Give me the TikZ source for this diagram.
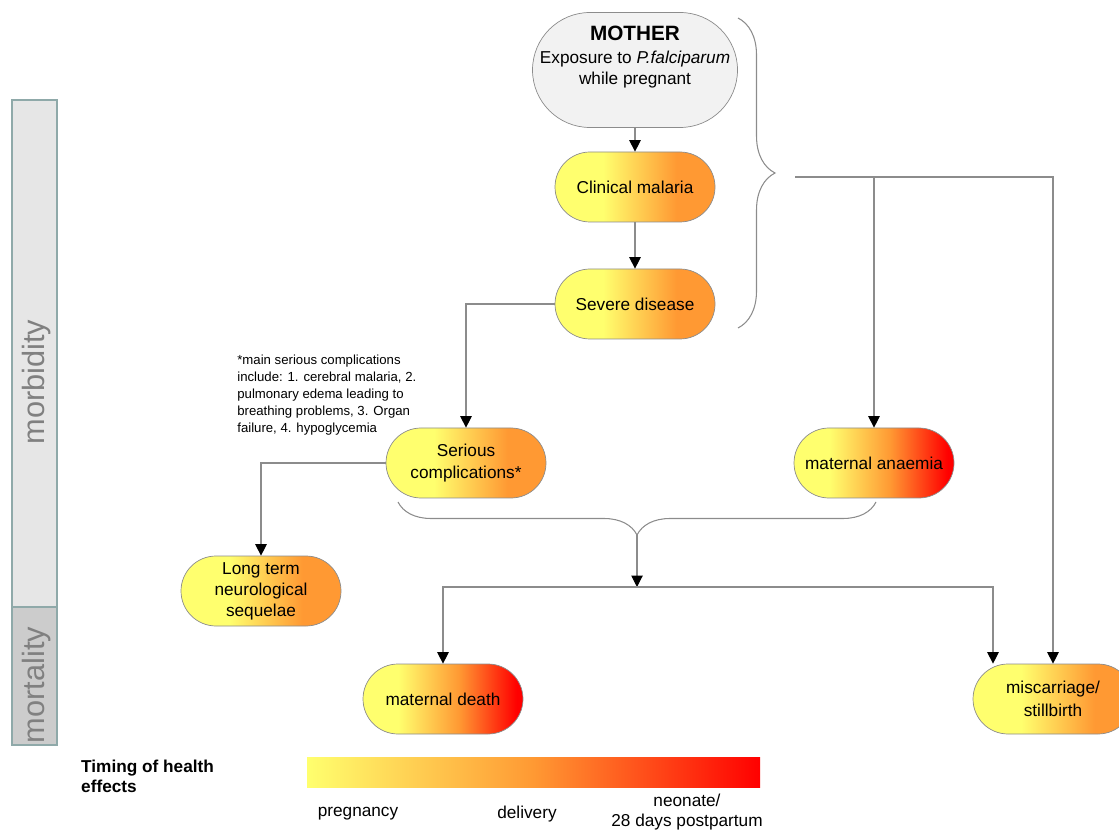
\documentclass[tikz,border=0pt]{standalone}
\usepackage{fontspec}
\setmainfont{Liberation Sans}
\usetikzlibrary{arrows.meta,decorations.pathreplacing}

\definecolor{paleyellow}{HTML}{FFFF6E}
\definecolor{midorange}{HTML}{FF9933}
\definecolor{deepred}{HTML}{FF0000}
\definecolor{linegray}{HTML}{8C8C8C}
\definecolor{mothergray}{HTML}{F2F2F2}
\definecolor{bargray}{HTML}{E6E6E6}
\definecolor{bardark}{HTML}{CCCCCC}
\definecolor{barframe}{HTML}{8FA9A9}
\definecolor{labelgray}{HTML}{808080}

% shadings: pregnancy -> delivery (-> neonate)
\pgfdeclarehorizontalshading{yelor}{100bp}{color(0bp)=(paleyellow); color(40bp)=(paleyellow); color(63bp)=(midorange); color(100bp)=(midorange)}
\pgfdeclarehorizontalshading{yelred}{100bp}{color(0bp)=(paleyellow); color(36bp)=(paleyellow); color(55bp)=(midorange); color(73bp)=(deepred); color(100bp)=(deepred)}
\pgfdeclarehorizontalshading{timing}{100bp}{color(0bp)=(paleyellow); color(25bp)=(paleyellow); color(50bp)=(midorange); color(75bp)=(deepred); color(100bp)=(deepred)}

\begin{document}
\begin{tikzpicture}[
			effect/.style={rectangle, rounded corners=0.7cm, draw=linegray, line width=0.4pt, minimum width=3.2cm, minimum height=1.4cm, inner sep=2pt, align=center, shade, shading=yelor, font=\fontsize{9.8}{13}\selectfont},
			fatal/.style={effect, shading=yelred},
			source/.style={rectangle, rounded corners=1.15cm, draw=linegray, line width=0.4pt, fill=mothergray, minimum width=4.1cm, minimum height=2.3cm},
			conn/.style={draw=linegray, line width=0.6pt, -{Triangle[width=6.5pt,length=6.5pt,color=black]}},
			curly/.style={draw=linegray, line width=0.6pt, decorate, decoration={brace, amplitude=0.74cm}},
			bar/.style={rectangle, draw=barframe, line width=1.6pt, minimum width=0.9cm},
			barlabel/.style={rotate=90, text=labelgray, font=\fontsize{17.5}{20}\selectfont},
			legtext/.style={font=\fontsize{9.8}{11}\selectfont}
			]
			\useasboundingbox (0,0) rectangle (22.38,-16.64);
			
			% Side bars
			\node[bar, fill=bargray, minimum height=10.14cm] (morbar) at (0.69,-7.07) {};
			\node[bar, fill=bardark, minimum height=2.76cm] (mortbar) at (0.69,-13.52) {};
			\node[barlabel] (morblabel) at (0.74,-7.64) {morbidity};
			\node[barlabel] (mortlabel) at (0.74,-13.70) {mortality};
			
			% Health effects
			\node[source] (mother) at (12.70,-1.40) {};
			\node[align=center, font=\fontsize{9.8}{11.8}\selectfont] (mothertext) at (12.70,-1.14) {{\fontsize{11.8}{14}\selectfont\bfseries MOTHER}\\[1.5pt]Exposure to \textit{P.falciparum}\\while pregnant};
			\node[effect] (clinical) at (12.70,-3.74) {Clinical malaria};
			\node[effect] (severe) at (12.70,-6.08) {Severe disease};
			\node[effect] (serious) at (9.32,-9.26) {Serious\\complications*};
			\node[fatal] (anaemia) at (17.48,-9.26) {maternal anaemia};
			\node[effect, font=\fontsize{9.8}{12}\selectfont] (longterm) at (5.22,-11.82) {Long term\\neurological\\sequelae};
			\node[fatal] (death) at (8.86,-13.98) {maternal death};
			\node[effect] (miscarriage) at (21.06,-13.98) {miscarriage/\\stillbirth};
			
			% Footnote
			\node[anchor=north west, align=left, inner sep=0pt, font=\fontsize{7.5}{9.6}\selectfont] (note) at (4.74,-7.10) {*main serious complications\\include: 1. cerebral malaria, 2.\\pulmonary edema leading to\\breathing problems, 3. Organ\\failure, 4. hypoglycemia};
			
			% Braces
			\coordinate (rbtop) at (14.76,-0.36);
			\coordinate (rbbot) at (14.76,-6.56);
			\coordinate (rbtip) at (15.90,-3.54);
			\draw[curly] (rbtop) -- (rbbot);
			\coordinate (lbstart) at (17.52,-10.04);
			\coordinate (lbend) at (7.96,-10.04);
			\coordinate (lbtip) at (12.74,-10.70);
			\coordinate (junction) at (12.74,-11.74);
			\draw[curly, decoration={amplitude=0.66cm}] (lbstart) -- (lbend);
			
			% Connectors
			\draw[conn] (mother) -- (clinical);
			\draw[conn] (clinical) -- (severe);
			\draw[conn] (severe.west) -| (serious.north);
			\draw[conn] (serious.west) -| (longterm.north);
			\draw[conn] (rbtip) -| (miscarriage.north);
			\draw[conn] (anaemia.north |- rbtip) -- (anaemia.north);
			\draw[conn] (lbtip) -- (junction);
			\draw[conn] (junction) -| (death.north);
			\draw[conn] (junction) -| ([xshift=-1.2cm]miscarriage.north);
			
			% Legend
			\node[anchor=west, align=left, font=\fontsize{9.8}{11.3}\selectfont\bfseries] (timing) at (1.50,-15.52) {Timing of health\\effects};
			\node[rectangle, shade, shading=timing, minimum width=9.06cm, minimum height=0.6cm, inner sep=0pt] (legbar) at (10.67,-15.44) {};
			\node[legtext] (preg) at (7.16,-16.28) {pregnancy};
			\node[legtext] (deliv) at (10.54,-16.28) {delivery};
			\node[legtext, align=center, inner sep=0pt] (neo) at (13.74,-16.24) {neonate/\\28 days postpartum};
			
		\end{tikzpicture}
\end{document}
